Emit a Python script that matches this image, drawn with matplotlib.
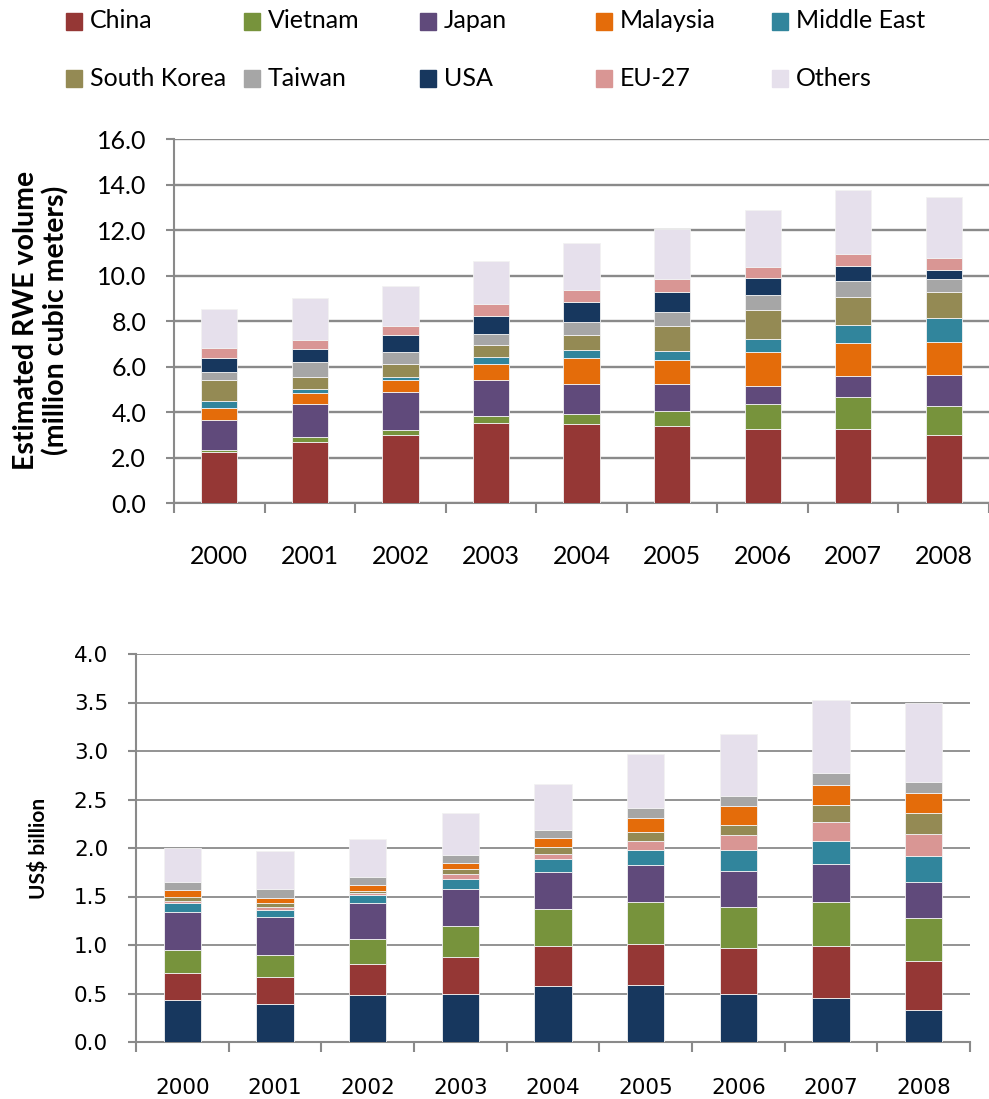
import matplotlib
matplotlib.use("Agg")
import matplotlib.pyplot as plt
import numpy as np
from matplotlib.patches import Rectangle

years = ['2000', '2001', '2002', '2003', '2004', '2005', '2006', '2007', '2008']
countries = ['China', 'Vietnam', 'Japan', 'Malaysia', 'Middle East',
             'South Korea', 'Taiwan', 'USA', 'EU-27', 'Others']

colors = {
    'China': '#953735',
    'Vietnam': '#77933C',
    'Japan': '#604A7B',
    'Malaysia': '#E46C0A',
    'Middle East': '#31859C',
    'South Korea': '#948A54',
    'Taiwan': '#A6A6A6',
    'USA': '#17375E',
    'EU-27': '#D99694',
    'Others': '#E6E0EC',
}

# Estimated RWE volume (million cubic meters), stacked bottom to top
vol_china = [2.22, 2.70, 3.01, 3.53, 3.47, 3.39, 3.27, 3.27, 2.98]
vol_vietnam = [0.12, 0.21, 0.20, 0.31, 0.43, 0.65, 1.07, 1.37, 1.27]
vol_japan = [1.30, 1.45, 1.68, 1.56, 1.31, 1.17, 0.81, 0.95, 1.37]
vol_malaysia = [0.52, 0.49, 0.53, 0.73, 1.17, 1.08, 1.48, 1.45, 1.45]
vol_middle_east = [0.31, 0.17, 0.11, 0.29, 0.35, 0.38, 0.57, 0.78, 1.05]
vol_south_korea = [0.92, 0.53, 0.57, 0.53, 0.67, 1.10, 1.28, 1.23, 1.14]
vol_taiwan = [0.36, 0.64, 0.54, 0.47, 0.57, 0.61, 0.66, 0.70, 0.58]
vol_usa = [0.61, 0.57, 0.73, 0.80, 0.86, 0.88, 0.74, 0.66, 0.42]
vol_eu = [0.44, 0.41, 0.40, 0.51, 0.54, 0.58, 0.51, 0.52, 0.50]
vol_others = [1.71, 1.85, 1.75, 1.91, 2.06, 2.20, 2.47, 2.85, 2.69]

# Value (US$ billion)
val_usa = [0.43, 0.39, 0.48, 0.50, 0.58, 0.59, 0.50, 0.45, 0.33]
val_china = [0.28, 0.28, 0.32, 0.38, 0.41, 0.42, 0.47, 0.54, 0.51]
val_vietnam = [0.24, 0.23, 0.26, 0.32, 0.38, 0.43, 0.42, 0.45, 0.44]
val_japan = [0.39, 0.39, 0.37, 0.38, 0.38, 0.38, 0.37, 0.39, 0.37]
val_middle_east = [0.09, 0.07, 0.09, 0.10, 0.14, 0.16, 0.22, 0.24, 0.27]
val_eu = [0.02, 0.03, 0.02, 0.05, 0.05, 0.09, 0.15, 0.20, 0.22]
val_south_korea = [0.05, 0.04, 0.02, 0.05, 0.07, 0.09, 0.11, 0.17, 0.22]
val_malaysia = [0.07, 0.05, 0.06, 0.07, 0.09, 0.15, 0.19, 0.21, 0.21]
val_taiwan = [0.08, 0.10, 0.08, 0.08, 0.09, 0.10, 0.11, 0.12, 0.11]
val_others = [0.35, 0.39, 0.39, 0.43, 0.47, 0.56, 0.64, 0.76, 0.81]

volume_series = [('China', vol_china), ('Vietnam', vol_vietnam), ('Japan', vol_japan),
                 ('Malaysia', vol_malaysia), ('Middle East', vol_middle_east),
                 ('South Korea', vol_south_korea), ('Taiwan', vol_taiwan),
                 ('USA', vol_usa), ('EU-27', vol_eu), ('Others', vol_others)]
value_series = [('USA', val_usa), ('China', val_china), ('Vietnam', val_vietnam),
                ('Japan', val_japan), ('Middle East', val_middle_east), ('EU-27', val_eu),
                ('South Korea', val_south_korea), ('Malaysia', val_malaysia),
                ('Taiwan', val_taiwan), ('Others', val_others)]

W, H = 989, 1099
fig = plt.figure(figsize=(W / 100, H / 100), dpi=100)
grid_color = '#8a8a8a'


def stacked(ax, series, width=0.4):
    x = np.arange(len(years))
    bottom = np.zeros(len(years))
    for name, vals in series:
        ax.bar(x, vals, width, bottom=bottom, color=colors[name],
               edgecolor='#f2f2f2', linewidth=0.6, zorder=3)
        bottom += np.array(vals)
    ax.set_xlim(-0.5, len(years) - 0.5)
    ax.set_xticks(x)
    ax.set_xticks(np.arange(-0.5, len(years)), minor=True)
    ax.tick_params(axis='x', which='major', length=0)
    ax.tick_params(axis='x', which='minor', length=7, width=1.5, color=grid_color)
    ax.tick_params(axis='y', length=6, width=1.5, color=grid_color)
    for s in ['top', 'right']:
        ax.spines[s].set_visible(False)
    for s in ['left', 'bottom']:
        ax.spines[s].set_color(grid_color)
        ax.spines[s].set_linewidth(1.5)
    ax.yaxis.grid(True, color=grid_color, linewidth=1.7, zorder=0)
    ax.set_axisbelow(True)


# top chart: volume
ax1 = fig.add_axes([174 / W, 1 - 503 / H, 815 / W, 364 / H])
stacked(ax1, volume_series)
ax1.set_ylim(0, 16)
ax1.set_yticks(np.arange(0, 16.1, 2))
ax1.set_yticklabels([f'{v:.1f}' for v in np.arange(0, 16.1, 2)])
ax1.set_xticklabels(years)
for lab in ax1.get_xticklabels() + ax1.get_yticklabels():
    lab.set_family('Lato')
    lab.set_fontsize(18)
ax1.tick_params(axis='x', which='major', pad=30)
ax1.tick_params(axis='y', pad=14)
fig.text(41 / W, 1 - 320 / H, 'Estimated RWE volume\n(million cubic meters)',
         rotation=90, ha='center', va='center', multialignment='center',
         family='Lato', fontweight='bold', fontsize=20.5, linespacing=1.15)

# bottom chart: value
ax2 = fig.add_axes([136 / W, 1 - 1042 / H, 834 / W, 388 / H])
stacked(ax2, value_series)
ax2.set_ylim(0, 4)
ax2.set_yticks(np.arange(0, 4.01, 0.5))
ax2.set_yticklabels([f'{v:.1f}' for v in np.arange(0, 4.01, 0.5)])
ax2.set_xticklabels(years)
for lab in ax2.get_xticklabels() + ax2.get_yticklabels():
    lab.set_family('DejaVu Sans')
    lab.set_fontsize(15.5)
ax2.tick_params(axis='x', which='major', pad=26)
ax2.tick_params(axis='y', pad=14)
ax2.yaxis.grid(True, color=grid_color, linewidth=1.3, zorder=0)
fig.text(38 / W, 1 - 848 / H, 'US$ billion', rotation=90, ha='center', va='center',
         family='Lato', fontweight='bold', fontsize=15)

# legend, laid out like the original (two rows of five)
col_x = [66, 244, 420, 596, 772]
row_y = [21, 78]
for i, name in enumerate(countries):
    r, c = divmod(i, 5)
    x0, yc = col_x[c], row_y[r]
    fig.add_artist(Rectangle((x0 / W, 1 - (yc + 8.5) / H), 16 / W, 17 / H,
                             transform=fig.transFigure, color=colors[name]))
    fig.text((x0 + 24) / W, 1 - yc / H, name, ha='left', va='center',
             family='Lato', fontsize=18)

fig.savefig('out.png', dpi=100)
